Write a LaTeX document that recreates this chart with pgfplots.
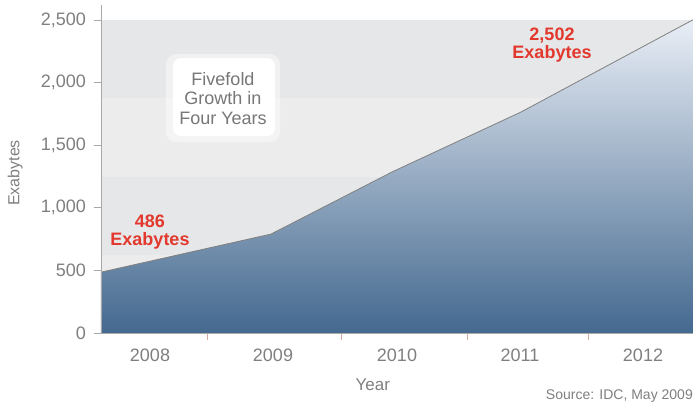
\documentclass[border=0pt]{standalone}
\usepackage{pgfplots}
\pgfplotsset{compat=1.18}
\usepackage{fontspec}
\setmainfont{Liberation Sans}
\definecolor{tickgray}{HTML}{7F7F7F}
\definecolor{axgray}{HTML}{A8A8A8}
\definecolor{lineg}{HTML}{808080}
\definecolor{bandA}{HTML}{E6E7E8}
\definecolor{bandB}{HTML}{ECECEC}
\definecolor{topblue}{HTML}{E9EEF6}
\definecolor{botblue}{HTML}{44698F}
\definecolor{redlab}{HTML}{E2382D}
\definecolor{sepc}{HTML}{D9A7A2}
\definecolor{boxtext}{HTML}{777777}
\begin{document}
\begin{tikzpicture}
\useasboundingbox (-101pt,-72pt) rectangle (592pt,333pt);
\begin{axis}[
  scale only axis, width=592pt, height=328pt,
  xmin=0, xmax=592, ymin=0, ymax=2620,
  axis x line=bottom, axis y line=left,
  axis line style={-, draw=axgray, line width=0.8pt},
  axis on top=true,
  clip=false,
  ytick={0,500,1000,1500,2000,2500},
  yticklabels={0,500,{1,000},{1,500},{2,000},{2,500}},
  tick align=outside,
  major tick length=7pt,
  y tick style={draw=axgray, line width=0.8pt},
  yticklabel style={font=\fontsize{18}{18}\selectfont, text=tickgray, inner sep=0pt, xshift=-8pt},
  xtick={106,240,366,487},
  xticklabels={},
  x tick style={draw=sepc, line width=0.8pt},
  extra x ticks={49,172,296,419,542},
  extra x tick labels={2008,2009,2010,2011,2012},
  extra x tick style={major tick length=0pt, tick style={draw=none},
    xticklabel style={font=\fontsize{18}{18}\selectfont, text=tickgray, inner sep=0pt, yshift=-16pt}},
  xlabel={Year},
  xlabel style={at={(axis description cs:0.459,-0.1585)}, anchor=center, font=\fontsize{17}{17}\selectfont, text=tickgray},
  ylabel={Exabytes},
  ylabel style={at={(axis description cs:-0.145,0.488)}, anchor=center, font=\fontsize{16}{16}\selectfont, text=tickgray},
]
\fill[bandA] (axis cs:0,1875) rectangle (axis cs:592,2500);
\fill[bandB] (axis cs:0,1250) rectangle (axis cs:592,1875);
\fill[bandA] (axis cs:0,625) rectangle (axis cs:592,1250);
\fill[bandB] (axis cs:0,0) rectangle (axis cs:592,625);
\addplot[draw=none, top color=topblue, bottom color=botblue]
  coordinates {(0,486) (170,790) (292,1290) (420,1765) (592,2502)} \closedcycle;
\addplot[draw=lineg, line width=0.8pt, mark=none]
  coordinates {(0,486) (170,790) (292,1290) (420,1765) (592,2502)};
\fill[white, opacity=0.45, rounded corners=10pt] (axis cs:65,2228) rectangle (axis cs:179,1525);
\fill[white, rounded corners=8pt] (axis cs:72,2196) rectangle (axis cs:174,1573);
\node[align=center, text=boxtext, font=\fontsize{18}{19.5}\selectfont] at (axis cs:122,1873) {Fivefold\\Growth in\\Four Years};
\node[align=center, text=redlab, font=\bfseries\fontsize{18}{18}\selectfont] at (axis cs:49,807) {486\\Exabytes};
\node[align=center, text=redlab, font=\bfseries\fontsize{18}{18}\selectfont] at (axis cs:451,2300) {2,502\\Exabytes};
\node[anchor=east, text=tickgray, font=\fontsize{14}{14}\selectfont, inner sep=0pt] at (axis description cs:1,-0.192) {Source: IDC, May 2009};
\end{axis}
\end{tikzpicture}
\end{document}
